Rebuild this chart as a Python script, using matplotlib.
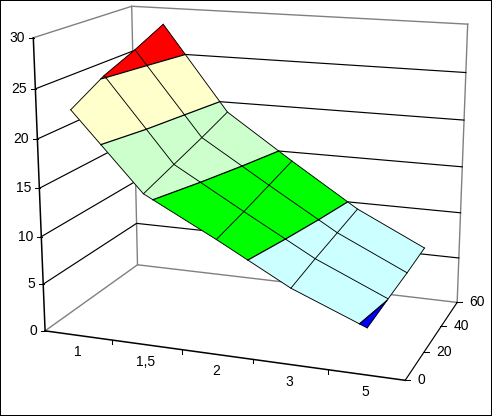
#!/usr/bin/env python3
"""Excel style 3D surface chart, colour bands every 5 units."""

import matplotlib
matplotlib.use("Agg")
import matplotlib.pyplot as plt
import numpy as np
from matplotlib.lines import Line2D
from matplotlib.patches import Rectangle
from matplotlib.transforms import IdentityTransform
from mpl_toolkits.mplot3d import proj3d
from mpl_toolkits.mplot3d.art3d import Poly3DCollection

plt.rcParams.update({
    "font.family": ["Liberation Sans", "DejaVu Sans"],
    "font.size": 10,
})

categories = ["1", "1,5", "2", "3", "5"]
depths = [0, 20, 40, 60]
z_ticks = [0, 5, 10, 15, 20, 25, 30]

# one row per category, one column per depth
series_1 = [23.2, 25.2, 26.6, 28.2]
series_1_5 = [15.5, 16.6, 17.7, 18.9]
series_2 = [11.7, 12.4, 13.2, 14.0]
series_3 = [7.7, 8.3, 8.8, 9.3]
series_5 = [4.7, 5.02, 5.3, 5.7]

band_colors = ["#0000FF", "#CCFFFF", "#00FF00", "#CCFFCC", "#FFFFCC", "#FF0000"]
GREY = "#808080"

values = np.array([series_1, series_1_5, series_2, series_3, series_5])
cat_pos = np.arange(len(categories)) + 0.5

fig = plt.figure(figsize=(4.92, 4.16), dpi=100, facecolor="white")
ax = fig.add_axes([43.1 / 492, 25.12 / 416, 416 / 492, 1], projection="3d")
ax.set_xlim(0, 5)
ax.set_ylim(0, 60)
ax.set_zlim(0, 30)
ax.view_init(elev=14.9, azim=-70.11)
ax.set_proj_type("persp", focal_length=float(np.exp(-0.4442)))
ax.set_box_aspect((np.exp(0.2232), np.exp(-0.2845), 1.0), zoom=float(np.exp(0.1977)))
ax.set_axis_off()
ax.patch.set_visible(False)
ax.computed_zorder = False
ax.apply_aspect()


def line3(xs, ys, zs, color="black", lw=0.65, zorder=1):
    ax.plot(xs, ys, zs, color=color, lw=lw, zorder=zorder, clip_on=False)


def to_px(x, y, z):
    xs, ys, _ = proj3d.proj_transform(np.array([x], float), np.array([y], float),
                                      np.array([z], float), ax.get_proj())
    return ax.transData.transform((xs[0], ys[0]))


def tick(x, y, z, x0, x1, dy=0):
    px, py = to_px(x, y, z)
    fig.add_artist(Line2D([px + x0, px + x1], [py, py - dy], color="black", lw=0.75,
                          transform=IdentityTransform()))


def label(x, y, z, text, dx, dy, ha):
    px, py = to_px(x, y, z)
    fig.text(px + dx, py + dy, text, ha=ha, va="center", color="black",
             transform=IdentityTransform())


def clip(poly, level, keep_above):
    """Cut a polygon of (x, y, z) points at a height."""
    kept = []
    for a, b in zip(poly, poly[1:] + poly[:1]):
        a_in = a[2] >= level if keep_above else a[2] <= level
        b_in = b[2] >= level if keep_above else b[2] <= level
        if a_in:
            kept.append(a)
        if a_in != b_in:
            t = (level - a[2]) / (b[2] - a[2])
            kept.append((a[0] + t * (b[0] - a[0]), a[1] + t * (b[1] - a[1]), level))
    return kept


# walls and floor
line3([0, 0, 5], [0, 60, 60], [30, 30, 30], GREY, 1.0)
line3([0, 0], [60, 60], [0, 30], GREY, 1.0)
line3([5, 5], [60, 60], [0, 30], GREY, 1.0)
line3([0, 0, 5], [0, 60, 60], [0, 0, 0], GREY, 1.0)
for z in z_ticks[1:-1]:
    line3([0, 0, 5], [0, 60, 60], [z, z, z], lw=0.85)
line3([0, 0], [0, 0], [0, 30], lw=1.1, zorder=2)
line3([0, 5], [0, 0], [0, 0], lw=1.1, zorder=2)
line3([5, 5], [0, 60], [0, 0], lw=0.85, zorder=2)

# surface, one polygon per cell and band
polys, colors, contour_segs = [], [], []
for i in range(len(categories) - 1):
    for j in range(len(depths) - 1):
        cell = [(cat_pos[i], depths[j], values[i, j]),
                (cat_pos[i + 1], depths[j], values[i + 1, j]),
                (cat_pos[i + 1], depths[j + 1], values[i + 1, j + 1]),
                (cat_pos[i], depths[j + 1], values[i, j + 1])]
        for b, color in enumerate(band_colors):
            lo, hi = z_ticks[b], z_ticks[b + 1]
            part = clip(cell, lo, True)
            if part:
                part = clip(part, hi, False)
            if len(part) < 3:
                continue
            polys.append(part)
            colors.append(color)
            for p, q in zip(part, part[1:] + part[:1]):
                if p[2] == q[2] == hi:
                    contour_segs.append((p, q))

surface = Poly3DCollection(polys, facecolors=colors, edgecolors=colors, linewidths=0.3,
                           zorder=3, clip_on=False)
ax.add_collection3d(surface)

for p, q in contour_segs:
    line3([p[0], q[0]], [p[1], q[1]], [p[2], q[2]], lw=0.9, zorder=4)
for j, d in enumerate(depths):
    line3(cat_pos, np.full(len(cat_pos), d), values[:, j], zorder=5)
for i, x in enumerate(cat_pos):
    line3(np.full(len(depths), x), depths, values[i, :], zorder=5)

# ticks and labels
for z in z_ticks:
    tick(0, 0, z, -4, 1)
    label(0, 0, z, str(z), -8, 0, "right")
for x in range(1, 5):
    tick(x, 0, 0, 0, 0, 4)
for x, name in zip(cat_pos, categories):
    label(x, 0, 0, name, -1, -17, "center")
for d in depths:
    tick(5, d, 0, -1, 5)
    label(5, d, 0, str(d), 12, 0, "left")

fig.add_artist(Rectangle((0, 0), 1, 1, transform=fig.transFigure, fill=False,
                         edgecolor="black", lw=1.44))
fig.savefig("out.png", dpi=100)
